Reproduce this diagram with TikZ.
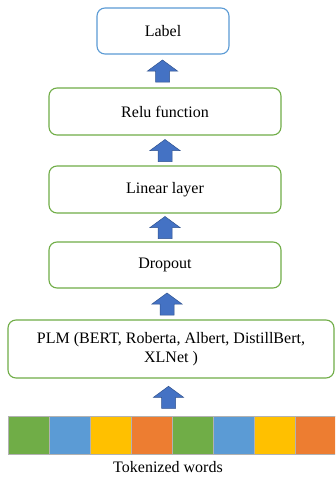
\documentclass[tikz,border=0pt]{standalone}
\usepackage{fontspec}
\setmainfont{Liberation Serif}
\usetikzlibrary{calc}
\definecolor{boxgreen}{HTML}{70AD47}
\definecolor{boxblue}{HTML}{5B9BD5}
\definecolor{arrfill}{HTML}{4472C4}
\definecolor{arredge}{HTML}{2F528F}
\definecolor{tokyellow}{HTML}{FFC000}
\definecolor{tokorange}{HTML}{ED7D31}
\begin{document}
\begin{tikzpicture}[x=1pt,y=1pt,
  layer/.style={draw=boxgreen, line width=1.1pt, rounded corners=8pt, fill=white,
    align=center, font=\fontsize{16}{19}\selectfont, inner sep=2pt},
  tok/.style={draw=gray!60, line width=0.6pt, minimum width=41pt, minimum height=38pt, inner sep=0pt},
  blockup/.pic={\draw[fill=arrfill, draw=arredge, line width=0.5pt]
    (-7,-11) -- (7,-11) -- (7,0) -- (15,0) -- (0,11) -- (-15,0) -- (-7,0) -- cycle;}]
\useasboundingbox (0,0) rectangle (335,-477);
\fill[white] (0,0) rectangle (335,-477);

% stacked layers
\node[layer, draw=boxblue, minimum width=132pt, minimum height=46pt] (label) at (163,-31) {Label};
\node[layer, minimum width=232pt, minimum height=47pt] (relu) at (165,-111.5) {Relu function};
\node[layer, minimum width=232pt, minimum height=47pt] (linear) at (165,-189.5) {Linear layer};
\node[layer, minimum width=232pt, minimum height=46pt] (dropout) at (165,-265) {Dropout};
\node[layer, minimum width=326pt, minimum height=58pt] (plm) at (171,-349)
  {PLM (BERT, Roberta, Albert, DistillBert,\\XLNet )};

% token strip
\begin{scope}
\clip (0,0) rectangle (335,-477);
\foreach \c [count=\i from 0] in {boxgreen,boxblue,tokyellow,tokorange,boxgreen,boxblue,tokyellow,tokorange}
  \node[tok, fill=\c] (t\i) at (8+20.5+41*\i,-435) {};
\end{scope}
\node[font=\fontsize{16}{19}\selectfont] (tokens) at (168,-467) {Tokenized words};
\coordinate (strip) at (166,-416);

% block arrows between stages
\path ($(relu.north)!0.5!(label.south)+(-1.5,0)$) pic {blockup};
\path ($(linear.north)!0.5!(relu.south)$) pic {blockup};
\path ($(dropout.north)!0.5!(linear.south)$) pic {blockup};
\path ($(plm.north)!0.5!(dropout.south)+(-1,0)$) pic {blockup};
\path ($(strip)!0.5!(plm.south)$) pic {blockup};
\end{tikzpicture}
\end{document}
